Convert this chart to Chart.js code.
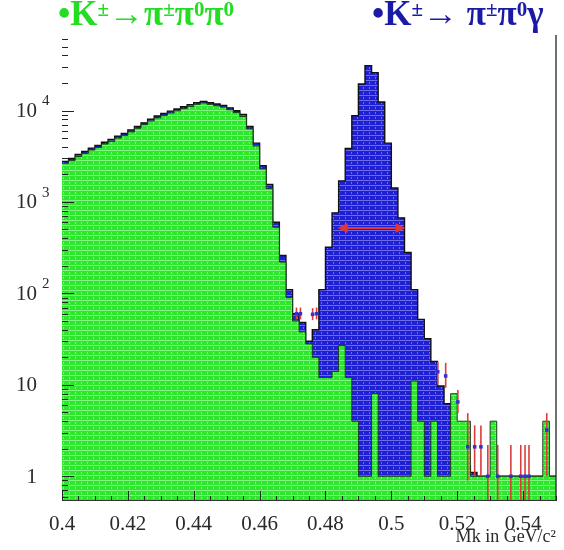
<!DOCTYPE html>
<html>
<head>
<meta charset="utf-8">
<script src="https://cdn.jsdelivr.net/npm/chart.js@4.4.1/dist/chart.umd.min.js"></script>
<style>
  body { margin: 0; background: #fff; }
  #wrap { position: relative; width: 564px; height: 550px; }
  .decay { position: absolute; top: -6px; font-family: "Liberation Serif", serif; font-weight: bold; font-size: 35px; line-height: 40px; white-space: nowrap; }
  .decay sup { font-size: 21px; line-height: 0; vertical-align: 0.45em; }
  #k3pi { left: 58px; color: #22dd22; }
  #kgam { left: 372px; color: #1a1aa6; }
</style>
</head>
<body>
<div id="wrap">
  <canvas id="mk" width="564" height="550"></canvas>
  <div class="decay" id="k3pi">&bull;K<sup>&plusmn;</sup>&rarr;&pi;<sup>&plusmn;</sup>&pi;<sup>0</sup>&pi;<sup>0</sup></div>
  <div class="decay" id="kgam">&bull;K<sup>&plusmn;</sup>&rarr; &pi;<sup>&plusmn;</sup>&pi;<sup>0</sup>&gamma;</div>
</div>
<script>
// binning of the Mk histograms (GeV/c^2)
var xMin = 0.4, xMax = 0.55, binWidth = 0.002;

// K -> pi pi0 pi0 (green), one entry per bin
var greenCounts = [
  2650, 2850, 3150, 3400, 3700, 3950, 4300, 4600, 5000, 5350,
  5850, 6400, 7000, 7700, 8300, 8850, 9400, 9950, 10500, 11100,
  11700, 12100, 11700, 11300, 10900, 10200, 9500, 8600, 6300, 4100,
  2300, 1400, 530, 220, 90, 50, 38, 28, 20, 12,
  12, 14, 27, 12, 4, 1, 1, 8, 1, 1,
  1, 1, 1, 11, 4, 1, 4, 1, 1, 8,
  4, 4, 1, 1, 1, 4, 1, 1, 1, 1,
  1, 1, 1, 4, 1
];

// sum of both channels (blue, with the K -> pi pi0 gamma peak)
var totalCounts = [
  2780, 2990, 3300, 3570, 3880, 4150, 4500, 4830, 5250, 5600,
  6130, 6700, 7330, 8060, 8700, 9270, 9850, 10400, 11000, 11600,
  12200, 12600, 12200, 11800, 11400, 10700, 9950, 9050, 6700, 4400,
  2500, 1550, 600, 260, 110, 60, 48, 30, 40, 110,
  320, 760, 1700, 3850, 8800, 19500, 31000, 26000, 12400, 4400,
  1420, 670, 280, 110, 52, 32, 18, 9.7, 6.2, 3.3,
  1.8, 1.3, 1.1, 1, 1, 1, 1, 1, 1, 1,
  1, 1, 1, 1, 1
];

// data points with their error bars
var pointMass  = [0.4712, 0.4724, 0.4761, 0.4773, 0.5141, 0.5165, 0.5202, 0.5232, 0.5253, 0.5272, 0.5293, 0.5323, 0.5363, 0.5393, 0.5406, 0.5418, 0.5472];
var pointCount = [60, 60, 59, 60, 13.9, 12.5, 6.5, 2.1, 2.1, 2.1, 1, 1, 1, 1, 1, 1, 3.2];
var pointHigh  = [70, 70, 69, 70, 17.8, 17.4, 8.8, 4.9, 3.6, 3.6, 2.2, 2.2, 2.2, 2.2, 2.2, 2.2, 4.9];
var pointLow   = [52, 52, 51, 52, 10.0, 9.3, 4.9, 0.9, 1, 1, 0.55, 0.55, 0.55, 0.55, 0.55, 0.55, 1];

// width marker across the peak
var arrowMass = [0.4837, 0.5043];
var arrowLevel = 520;

var xTicks = [0.4, 0.42, 0.44, 0.46, 0.48, 0.5, 0.52, 0.54];
var yTicks = [1, 10, 100, 1000, 10000];
var yTickBase = ['1', '10', '10', '10', '10'];
var yTickExp = ['', '', '2', '3', '4'];

function histPoints(counts) {
  var pts = counts.map(function (c, i) { return { x: xMin + i * binWidth, y: c }; });
  pts.push({ x: xMax, y: counts[counts.length - 1] });
  return pts;
}

function hatch(base, light) {
  var c = document.createElement('canvas');
  c.width = 6; c.height = 5;
  var g = c.getContext('2d');
  g.fillStyle = base; g.fillRect(0, 0, 6, 5);
  g.fillStyle = light;
  g.fillRect(0, 0, 6, 1);
  g.fillRect(3, 2, 1, 2);
  return g.createPattern(c, 'repeat');
}

var serif = '"Liberation Serif", serif';

var decor = {
  id: 'decor',
  afterDatasetDraw: function (chart, args) {
    if (args.index !== 1) return;
    var x = chart.scales.x, y = chart.scales.y, ctx = chart.ctx, area = chart.chartArea;
    ctx.save();
    ctx.strokeStyle = '#dd3b3b';
    ctx.lineWidth = 1.6;
    pointMass.forEach(function (m, i) {
      var px = x.getPixelForValue(m);
      var top = y.getPixelForValue(pointHigh[i]);
      var bot = Math.min(y.getPixelForValue(pointLow[i]), area.bottom);
      ctx.beginPath(); ctx.moveTo(px, top); ctx.lineTo(px, bot); ctx.stroke();
    });
    ctx.restore();
  },
  afterDraw: function (chart) {
    var x = chart.scales.x, y = chart.scales.y, ctx = chart.ctx, area = chart.chartArea;
    ctx.save();
    // frame on the right
    ctx.strokeStyle = '#111';
    ctx.lineWidth = 1.2;
    ctx.beginPath(); ctx.moveTo(area.right, area.top); ctx.lineTo(area.right, area.bottom); ctx.stroke();

    // log ticks on the left axis, pointing inward
    ctx.strokeStyle = '#222';
    ctx.lineWidth = 1;
    for (var d = 1; d <= 100000; d *= 10) {
      for (var k = 1; k <= 9; k++) {
        var v = d * k / 10;
        if (v < y.min || v > y.max) continue;
        var py = Math.round(y.getPixelForValue(v)) + 0.5;
        ctx.beginPath(); ctx.moveTo(area.left, py); ctx.lineTo(area.left + (k === 1 ? 12 : 6), py); ctx.stroke();
      }
    }
    // ticks on the bottom axis
    for (var t = 0; t <= 30; t++) {
      var m = xMin + t * 0.005;
      var px = Math.round(x.getPixelForValue(m)) + 0.5;
      ctx.beginPath(); ctx.moveTo(px, area.bottom); ctx.lineTo(px, area.bottom - (t % 4 === 0 ? 9 : 4)); ctx.stroke();
    }

    // y labels with exponents
    ctx.fillStyle = '#2a2a2a';
    ctx.textBaseline = 'middle';
    yTicks.forEach(function (v, i) {
      var py = y.getPixelForValue(v) + 1;
      ctx.font = '21px ' + serif;
      ctx.textAlign = 'right';
      ctx.fillText(yTickBase[i], area.left - 25, py);
      if (yTickExp[i]) {
        ctx.font = '15px ' + serif;
        ctx.textAlign = 'left';
        ctx.fillText(yTickExp[i], area.left - 20, py - 10);
      }
    });

    // double arrow across the peak
    var ax0 = x.getPixelForValue(arrowMass[0]), ax1 = x.getPixelForValue(arrowMass[1]);
    var ay = y.getPixelForValue(arrowLevel);
    ctx.strokeStyle = '#e23535';
    ctx.fillStyle = '#e23535';
    ctx.lineWidth = 2;
    ctx.beginPath(); ctx.moveTo(ax0 + 6, ay); ctx.lineTo(ax1 - 6, ay); ctx.stroke();
    ctx.beginPath(); ctx.moveTo(ax0, ay); ctx.lineTo(ax0 + 10, ay - 5); ctx.lineTo(ax0 + 10, ay + 5); ctx.closePath(); ctx.fill();
    ctx.beginPath(); ctx.moveTo(ax1, ay); ctx.lineTo(ax1 - 10, ay - 5); ctx.lineTo(ax1 - 10, ay + 5); ctx.closePath(); ctx.fill();
    ctx.restore();
  }
};

var ctx = document.getElementById('mk');
var mkChart = new Chart(ctx, {
  type: 'line',
  data: {
    datasets: [
      {
        label: 'data',
        data: pointMass.map(function (m, i) { return { x: m, y: pointCount[i] }; }),
        showLine: false,
        pointStyle: 'rect',
        pointRadius: 2.5,
        pointBackgroundColor: '#3030d8',
        pointBorderColor: '#3030d8',
        pointBorderWidth: 0
      },
      {
        label: 'K -> pi pi0 pi0',
        data: histPoints(greenCounts),
        stepped: true,
        fill: 'start',
        backgroundColor: hatch('#2ee62e', 'rgba(200,255,200,0.55)'),
        borderColor: '#1d3d1d',
        borderWidth: 1,
        pointRadius: 0
      },
      {
        label: 'K -> pi pi0 gamma',
        data: histPoints(totalCounts),
        stepped: true,
        fill: 'start',
        backgroundColor: hatch('#1f1fd4', 'rgba(170,170,255,0.55)'),
        borderColor: '#111',
        borderWidth: 1.4,
        pointRadius: 0
      }
    ]
  },
  options: {
    responsive: false,
    animation: false,
    layout: { padding: { left: 12, right: 8, top: 35, bottom: 0 } },
    plugins: { legend: { display: false }, tooltip: { enabled: false } },
    scales: {
      x: {
        type: 'linear',
        min: xMin,
        max: xMax,
        afterBuildTicks: function (s) { s.ticks = xTicks.map(function (v) { return { value: v }; }); },
        afterFit: function (s) { s.height = 50; },
        grid: { display: false },
        border: { display: true, color: '#333', width: 1 },
        ticks: {
          autoSkip: false,
          maxRotation: 0,
          padding: 4,
          color: '#2a2a2a',
          font: { family: serif, size: 21 },
          callback: function (v) { return String(+v.toFixed(2)); }
        },
        title: {
          display: true,
          text: 'Mk in GeV/c²',
          align: 'end',
          color: '#2a2a2a',
          font: { family: serif, size: 18 },
          padding: { top: 0, bottom: 2 }
        }
      },
      y: {
        type: 'logarithmic',
        min: 0.55,
        max: 67000,
        afterFit: function (s) { s.width = 50; },
        grid: { display: false },
        border: { display: false },
        ticks: { display: false }
      }
    }
  },
  plugins: [decor]
});
</script>
</body>
</html>
